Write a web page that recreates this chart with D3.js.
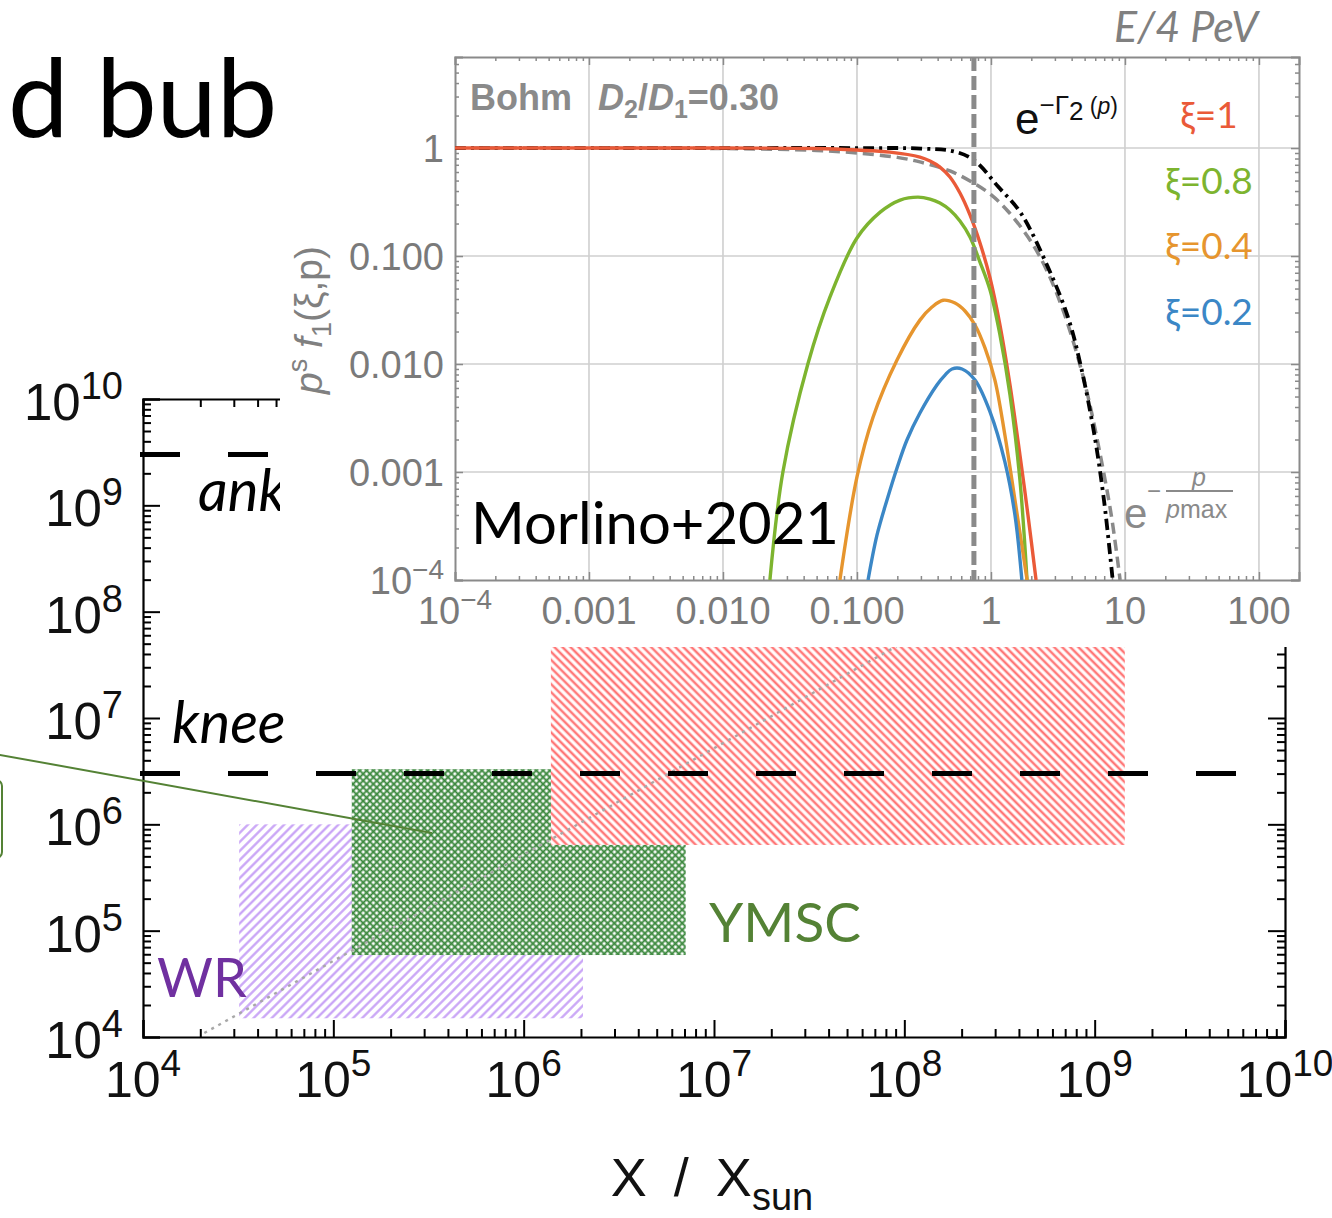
<!DOCTYPE html>
<html>
<head>
<meta charset="utf-8">
<script src="https://cdn.jsdelivr.net/npm/d3@7"></script>
<style>
  body { margin: 0; background: #fff; }
  svg { display: block; }
</style>
</head>
<body>
<svg id="fig" width="1332" height="1218"></svg>
<script>
// ---------------- data: main panel (energy vs. source size) ----------------
const mainDecades   = [1e4, 1e5, 1e6, 1e7, 1e8, 1e9, 1e10];
const mainExponents = ["4", "5", "6", "7", "8", "9", "10"];

const kneeEnergy  = 3e6;
const ankleEnergy = 3e9;

// source regions [xmin, xmax] / [ymin, ymax]
const wrX        = [3.2e4, 2.05e6];
const wrY        = [1.5e4, 1.0e6];
const ymscCoreX  = [1.25e5, 1.39e6];
const ymscCoreY  = [5.9e4, 3.3e6];
const ymscWideX  = [1.39e6, 7.1e6];
const ymscWideY  = [5.9e4, 6.4e5];
const snrX       = [1.39e6, 1.44e9];
const snrY       = [6.4e5, 1.0e8];

// Hillas-type scaling guide line (x, y)
const hillasLine = [[2.1e4, 1.09e4], [1.0e9, 5.2e8]];

// callout pointer (x, y)
const calloutLine = [[1.77e3, 4.5e6], [3.3e5, 8.3e5]];

// ---------------- data: inset (Morlino+2021 spectra) ----------------
const insetXTicks  = [1e-4, 1e-3, 1e-2, 1e-1, 1, 10, 100];
const insetXLabels = ["10^−4", "0.001", "0.010", "0.100", "1", "10", "100"];
const insetYTicks  = [1e-4, 1e-3, 1e-2, 1e-1, 1];
const insetYLabels = ["10^−4", "0.001", "0.010", "0.100", "1"];

const xiLabels = ["ξ=1", "ξ=0.8", "ξ=0.4", "ξ=0.2"];
const xiColors = ["#ea5a38", "#7db42f", "#e6952e", "#3b87c6"];

const xi1 = [[1e-4,1],[0.01,1],[0.05,0.99],[0.1,0.958],[0.176,0.918],[0.295,0.826],
             [0.351,0.758],[0.416,0.667],[0.494,0.539],[0.587,0.383],[0.697,0.24],
             [0.828,0.132],[0.984,0.0626],[1.167,0.023],[1.387,0.0064],[1.645,0.00144],
             [1.888,0.0004],[2.17,1e-4]];
const xi08 = [[0.0224,1e-4],[0.028,0.001],[0.043,0.01],[0.063,0.042],[0.1,0.147],
              [0.149,0.255],[0.21,0.33],[0.285,0.351],[0.351,0.337],[0.416,0.31],
              [0.494,0.267],[0.587,0.211],[0.697,0.15],[0.828,0.088],[0.984,0.0484],
              [1.167,0.0186],[1.387,0.00516],[1.645,0.00084],[1.858,1e-4]];
const xi04 = [[0.0746,1e-4],[0.1,0.0009],[0.1316,0.0032],[0.199,0.0109],[0.295,0.0255],
              [0.363,0.0337],[0.439,0.039],[0.539,0.0367],[0.64,0.031],[0.76,0.023],
              [0.902,0.0141],[1.07,0.0071],[1.27,0.0022],[1.51,0.00055],[1.70,0.00021],
              [1.86,1e-4]];
const xi02 = [[0.121,1e-4],[0.141,0.00026],[0.1675,0.00055],[0.199,0.00109],[0.236,0.00198],
              [0.295,0.00352],[0.395,0.0064],[0.454,0.0079],[0.512,0.009],[0.608,0.009],
              [0.76,0.0071],[0.984,0.0036],[1.27,0.00124],[1.51,0.0004],[1.70,1e-4]];
const gammaCut = [[1e-4,1],[0.01,1],[0.1,1],[0.3,0.99],[0.53,0.93],[0.75,0.77],[1.13,0.44],
                  [1.67,0.25],[2.66,0.079],[3.76,0.027],[4.7,0.0094],[5.88,0.0023],
                  [6.97,0.00055],[8.1,1e-4]];
const expCut = [[1e-4,1],[0.01,0.99],[0.05,0.95],[0.1,0.9],[0.2,0.82],[0.3,0.74],[0.5,0.61],
                [0.75,0.47],[1,0.37],[1.34,0.26],[2,0.135],[2.66,0.07],[3.5,0.03],[4.5,0.011],
                [5.3,0.005],[6.5,0.0015],[7.9,0.0004],[9.2,1e-4]];
const pMarker = 0.746;   // E = 4 PeV

// ---------------- drawing ----------------
const SANS  = '"Liberation Sans", Arial, Helvetica, sans-serif';
const HUMAN = 'Lato, "Open Sans", "Noto Sans", sans-serif';

// 2..9 x 10^e minor tick positions between two decade exponents
function minorTicks(lo, hi, max) {
  const out = [];
  for (let e = lo; e < hi; e++)
    for (let k = 2; k <= 9; k++) {
      const v = k * Math.pow(10, e);
      if (v <= max) out.push(v);
    }
  return out;
}

const svg = d3.select("#fig");
svg.append("rect").attr("width", 1332).attr("height", 1218).attr("fill", "#fff");

// slide-title fragment behind the figure
svg.append("text")
  .attr("x", 8).attr("y", 137)
  .attr("font-family", HUMAN).attr("font-size", 108)
  .attr("fill", "#000")
  .text("d bub");

// hatch patterns
const defs = svg.append("defs");
function lineHatch(id, color, period, width, angle) {
  const p = defs.append("pattern").attr("id", id)
    .attr("patternUnits", "userSpaceOnUse")
    .attr("width", period).attr("height", period)
    .attr("patternTransform", `rotate(${angle})`);
  p.append("rect").attr("width", period).attr("height", period).attr("fill", "#fff");
  p.append("line").attr("x1", period / 2).attr("x2", period / 2)
    .attr("y1", -1).attr("y2", period + 1)
    .attr("stroke", color).attr("stroke-width", width);
}
lineHatch("hatchWR", "#c6a0f6", 6.4, 2.2, 45);
lineHatch("hatchSNR", "#ff7878", 5.7, 2.5, -45);
{
  const p = defs.append("pattern").attr("id", "hatchYMSC")
    .attr("patternUnits", "userSpaceOnUse")
    .attr("width", 4.8).attr("height", 4.8)
    .attr("patternTransform", "rotate(45)");
  p.append("rect").attr("width", 4.8).attr("height", 4.8).attr("fill", "#fff");
  p.append("line").attr("x1", 0).attr("x2", 4.8).attr("y1", 2.4).attr("y2", 2.4)
    .attr("stroke", "#3b883d").attr("stroke-width", 1.9);
  p.append("line").attr("y1", 0).attr("y2", 4.8).attr("x1", 2.4).attr("x2", 2.4)
    .attr("stroke", "#3b883d").attr("stroke-width", 1.9);
}

// ---------- main panel ----------
const mx = d3.scaleLog().domain([1e4, 1e10]).range([143, 1285]);
const my = d3.scaleLog().domain([1e4, 1e10]).range([1037, 399]);
const main = svg.append("g");

function region(xr, yr, fill) {
  main.append("rect")
    .attr("x", mx(xr[0])).attr("width", mx(xr[1]) - mx(xr[0]))
    .attr("y", my(yr[1])).attr("height", my(yr[0]) - my(yr[1]))
    .attr("fill", fill);
}
region(wrX, wrY, "url(#hatchWR)");
region(snrX, snrY, "url(#hatchSNR)");
region(ymscCoreX, ymscCoreY, "url(#hatchYMSC)");
region(ymscWideX, ymscWideY, "url(#hatchYMSC)");

main.append("path")
  .attr("d", d3.line().x(d => mx(d[0])).y(d => my(d[1]))(hillasLine))
  .attr("fill", "none").attr("stroke", "#a8a8a8")
  .attr("stroke-width", 2.4).attr("stroke-dasharray", "3,5");

[kneeEnergy, ankleEnergy].forEach(e => {
  main.append("line")
    .attr("x1", 140).attr("x2", 1240)
    .attr("y1", my(e)).attr("y2", my(e))
    .attr("stroke", "#000").attr("stroke-width", 5)
    .attr("stroke-dasharray", "40,48");
});

// axes with inward ticks (minor and major ticks in separate groups)
const mainMinor = minorTicks(4, 10, 1e10);
function mainAxis(gen, scale, transform) {
  const gMin = main.append("g").attr("transform", transform);
  gMin.call(gen(scale).tickValues(mainMinor).tickSize(8).tickFormat(""));
  gMin.select("path.domain").remove();
  const gMaj = main.append("g").attr("transform", transform);
  gMaj.call(gen(scale).tickValues(mainDecades).tickSize(17).tickFormat(""));
  gMaj.selectAll("path.domain").attr("stroke", "#000").attr("stroke-width", 2.2);
  [gMin, gMaj].forEach(g => g.selectAll(".tick line").attr("stroke", "#000").attr("stroke-width", 2));
}
mainAxis(d3.axisRight, my, "translate(143,0)");
mainAxis(d3.axisLeft, my, "translate(1285,0)");
mainAxis(d3.axisTop, mx, "translate(0,1037)");
mainAxis(d3.axisBottom, mx, "translate(0,399)");

// power-of-ten tick labels
mainDecades.forEach((v, i) => {
  const ty = main.append("text")
    .attr("x", 123).attr("y", my(v) + 21)
    .attr("text-anchor", "end")
    .attr("font-family", SANS).attr("font-size", 51).attr("fill", "#111");
  ty.append("tspan").text("10");
  ty.append("tspan").attr("dy", -21).attr("font-size", 38).text(mainExponents[i]);

  const tx = main.append("text")
    .attr("x", mx(v)).attr("y", 1097)
    .attr("text-anchor", "middle")
    .attr("font-family", SANS).attr("font-size", 50).attr("fill", "#111");
  tx.append("tspan").text("10");
  tx.append("tspan").attr("dy", -21).attr("font-size", 37).text(mainExponents[i]);
});

// axis title
{
  const t = main.append("text")
    .attr("x", 712).attr("y", 1196)
    .attr("text-anchor", "middle")
    .attr("font-family", SANS).attr("font-size", 54).attr("fill", "#111");
  t.append("tspan").text("X\u2002/\u2002X");
  t.append("tspan").attr("dy", 14).attr("font-size", 38).text("sun");
}

// labels
main.append("text").attr("x", 172).attr("y", 743)
  .attr("font-family", HUMAN).attr("font-style", "italic").attr("font-size", 58)
  .text("knee");
main.append("text").attr("x", 198).attr("y", 511)
  .attr("font-family", HUMAN).attr("font-style", "italic").attr("font-size", 58)
  .text("ankle");
main.append("text").attr("x", 157).attr("y", 997)
  .attr("font-family", HUMAN).attr("font-size", 54).attr("fill", "#7030a0")
  .text("WR");
main.append("text").attr("x", 709).attr("y", 942)
  .attr("font-family", HUMAN).attr("font-size", 55).attr("fill", "#548235")
  .text("YMSC");

// callout pointer and the edge of its box
main.append("line")
  .attr("x1", mx(calloutLine[0][0])).attr("y1", my(calloutLine[0][1]))
  .attr("x2", mx(calloutLine[1][0])).attr("y2", my(calloutLine[1][1]))
  .attr("stroke", "#548235").attr("stroke-width", 2);
main.append("rect")
  .attr("x", -40).attr("y", 780).attr("width", 42).attr("height", 78)
  .attr("rx", 6).attr("fill", "none")
  .attr("stroke", "#548235").attr("stroke-width", 2);

// ---------- inset ----------
const inset = svg.append("g");
inset.append("rect").attr("x", 280).attr("y", 0)
  .attr("width", 1052).attr("height", 647).attr("fill", "#fff");

const ix = d3.scaleLog().domain([1e-4, 199]).range([455, 1299]);
const iy = d3.scaleLog().domain([1e-4, 6.97]).range([580, 57]);

// grid
inset.append("g").selectAll("line").data(insetXTicks.slice(1)).join("line")
  .attr("x1", d => ix(d)).attr("x2", d => ix(d)).attr("y1", 57).attr("y2", 580)
  .attr("stroke", "#cfcfcf").attr("stroke-width", 1.6);
inset.append("g").selectAll("line").data(insetYTicks.slice(1)).join("line")
  .attr("y1", d => iy(d)).attr("y2", d => iy(d)).attr("x1", 455).attr("x2", 1299)
  .attr("stroke", "#cfcfcf").attr("stroke-width", 1.6);

// frame ticks (inward)
const ixMinor = minorTicks(-4, 3, 199);
const iyMinor = minorTicks(-4, 1, 6.97);
function insetAxis(gen, scale, majors, minors, transform) {
  const gMin = inset.append("g").attr("transform", transform);
  gMin.call(gen(scale).tickValues(minors).tickSize(4).tickFormat(""));
  gMin.select("path.domain").remove();
  const gMaj = inset.append("g").attr("transform", transform);
  gMaj.call(gen(scale).tickValues(majors).tickSize(8).tickFormat(""));
  gMaj.selectAll("path.domain").attr("stroke", "#8a8a8a").attr("stroke-width", 2);
  [gMin, gMaj].forEach(g => g.selectAll(".tick line").attr("stroke", "#8a8a8a").attr("stroke-width", 1.5));
}
insetAxis(d3.axisRight, iy, insetYTicks, iyMinor, "translate(455,0)");
insetAxis(d3.axisLeft, iy, insetYTicks, iyMinor, "translate(1299,0)");
insetAxis(d3.axisTop, ix, insetXTicks, ixMinor, "translate(0,580)");
insetAxis(d3.axisBottom, ix, insetXTicks, ixMinor, "translate(0,57)");

// tick labels
function tickLabel(sel, label) {
  if (label.includes("^")) {
    const [b, e] = label.split("^");
    sel.append("tspan").text(b);
    sel.append("tspan").attr("dy", -15).attr("font-size", 28).text(e);
  } else {
    sel.text(label);
  }
}
insetXTicks.forEach((v, i) => {
  const t = inset.append("text").attr("x", ix(v)).attr("y", 624)
    .attr("text-anchor", "middle")
    .attr("font-family", SANS).attr("font-size", 38).attr("fill", "#7a7a7a");
  tickLabel(t, insetXLabels[i]);
});
insetYTicks.forEach((v, i) => {
  const t = inset.append("text").attr("x", 444).attr("y", iy(v) + 14)
    .attr("text-anchor", "end")
    .attr("font-family", SANS).attr("font-size", 38).attr("fill", "#7a7a7a");
  tickLabel(t, insetYLabels[i]);
});

// y title: p^s f_1(ξ,p)
{
  const t = inset.append("text")
    .attr("transform", "translate(322,320) rotate(-90)")
    .attr("text-anchor", "middle")
    .attr("font-family", SANS).attr("font-size", 39).attr("fill", "#808080");
  t.append("tspan").attr("font-style", "italic").text("p");
  t.append("tspan").attr("dy", -15).attr("font-size", 27).text("s");
  t.append("tspan").attr("dy", 15).text(" ");
  t.append("tspan").attr("font-style", "italic").text("f");
  t.append("tspan").attr("dy", 9).attr("font-size", 27).text("1");
  t.append("tspan").attr("dy", -9).text("(ξ,p)");
}

// curves
const clip = defs.append("clipPath").attr("id", "insetClip");
clip.append("rect").attr("x", 455).attr("y", 57).attr("width", 844).attr("height", 523);
const curves = inset.append("g").attr("clip-path", "url(#insetClip)");
const iline = d3.line().x(d => ix(d[0])).y(d => iy(d[1])).curve(d3.curveCatmullRom.alpha(0.5));

curves.append("path").attr("d", iline(expCut)).attr("fill", "none")
  .attr("stroke", "#8a8a8a").attr("stroke-width", 3.5).attr("stroke-dasharray", "11,6");
curves.append("path").attr("d", iline(gammaCut)).attr("fill", "none")
  .attr("stroke", "#000").attr("stroke-width", 3.8).attr("stroke-dasharray", "11,5,3,5");
[xi1, xi08, xi04, xi02].forEach((s, i) => {
  curves.append("path").attr("d", iline(s)).attr("fill", "none")
    .attr("stroke", xiColors[i]).attr("stroke-width", 3.4)
    .attr("stroke-linejoin", "round");
});
curves.append("line")
  .attr("x1", ix(pMarker)).attr("x2", ix(pMarker)).attr("y1", 57).attr("y2", 580)
  .attr("stroke", "#8a8a8a").attr("stroke-width", 5).attr("stroke-dasharray", "14,5");

// inset annotations
{
  const t = inset.append("text").attr("x", 470).attr("y", 110)
    .attr("font-family", SANS).attr("font-weight", "bold").attr("font-size", 36)
    .attr("fill", "#8a8a8a");
  t.append("tspan").text("Bohm");
  t.append("tspan").attr("dx", 26).attr("font-style", "italic").text("D");
  t.append("tspan").attr("dy", 8).attr("font-size", 25).text("2");
  t.append("tspan").attr("dy", -8).text("/");
  t.append("tspan").attr("font-style", "italic").text("D");
  t.append("tspan").attr("dy", 8).attr("font-size", 25).text("1");
  t.append("tspan").attr("dy", -8).text("=0.30");
}
inset.append("text").attr("x", 1258).attr("y", 42)
  .attr("text-anchor", "end")
  .attr("font-family", HUMAN).attr("font-style", "italic").attr("font-size", 43)
  .attr("fill", "#808080").text("E/4 PeV");

xiLabels.forEach((lab, i) => {
  inset.append("text").attr("x", 1209).attr("y", 128 + i * 65.5)
    .attr("text-anchor", "middle")
    .attr("font-family", HUMAN).attr("font-size", 37)
    .attr("fill", xiColors[i]).text(lab);
});

// e^{-Γ2(p)}
{
  const t = inset.append("text").attr("x", 1015).attr("y", 134)
    .attr("font-family", SANS).attr("font-size", 44).attr("fill", "#111");
  t.append("tspan").text("e");
  t.append("tspan").attr("dy", -20).attr("font-size", 26).text("−Γ");
  t.append("tspan").attr("dy", 6).attr("font-size", 26).text("2");
  t.append("tspan").attr("dy", -6).attr("font-size", 23).text(" (");
  t.append("tspan").attr("font-size", 23).attr("font-style", "italic").text("p");
  t.append("tspan").attr("font-size", 23).text(")");
}
// e^{-p/pmax}
{
  inset.append("text").attr("x", 1124).attr("y", 528)
    .attr("font-family", SANS).attr("font-size", 42).attr("fill", "#8a8a8a").text("e");
  inset.append("text").attr("x", 1147).attr("y", 499)
    .attr("font-family", SANS).attr("font-size", 24).attr("fill", "#8a8a8a").text("−");
  inset.append("line").attr("x1", 1166).attr("x2", 1233).attr("y1", 491).attr("y2", 491)
    .attr("stroke", "#8a8a8a").attr("stroke-width", 2);
  inset.append("text").attr("x", 1199).attr("y", 486).attr("text-anchor", "middle")
    .attr("font-family", SANS).attr("font-style", "italic").attr("font-size", 25)
    .attr("fill", "#8a8a8a").text("p");
  const d = inset.append("text").attr("x", 1166).attr("y", 518)
    .attr("font-family", SANS).attr("font-size", 25).attr("fill", "#8a8a8a");
  d.append("tspan").attr("font-style", "italic").text("p");
  d.append("tspan").text("max");
}

inset.append("text").attr("x", 471).attr("y", 544)
  .attr("font-family", HUMAN).attr("font-size", 58).attr("fill", "#000")
  .text("Morlino+2021");
</script>
</body>
</html>
